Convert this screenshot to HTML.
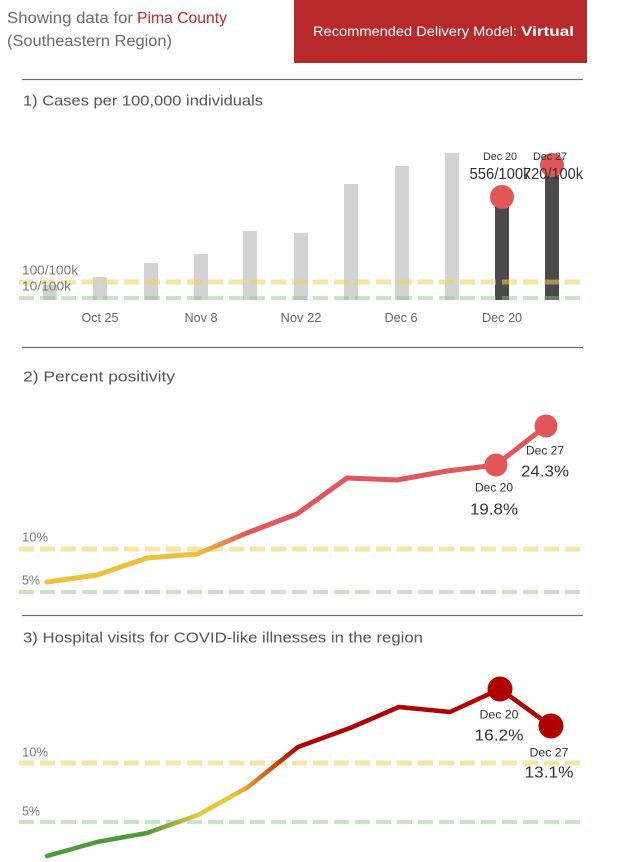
<!DOCTYPE html>
<html>
<head>
<meta charset="utf-8">
<style>
  html, body { margin: 0; padding: 0; background: #ffffff; }
  body { width: 618px; height: 862px; overflow: hidden; }
  svg { display: block; }
  text { font-family: "Liberation Sans", "DejaVu Sans", sans-serif; }
</style>
</head>
<body>
<svg width="618" height="862" viewBox="0 0 618 862" xmlns="http://www.w3.org/2000/svg">
  <defs>
    <linearGradient id="g2" gradientUnits="userSpaceOnUse" x1="197" y1="0" x2="247" y2="0">
      <stop offset="0" stop-color="#ecc23c"/>
      <stop offset="1" stop-color="#e15759"/>
    </linearGradient>
    <linearGradient id="g3" gradientUnits="userSpaceOnUse" x1="47" y1="0" x2="551" y2="0">
      <stop offset="0" stop-color="#4c9a3a"/>
      <stop offset="0.198" stop-color="#4c9a3a"/>
      <stop offset="0.30" stop-color="#e9c53c"/>
      <stop offset="0.37" stop-color="#e9c53c"/>
      <stop offset="0.50" stop-color="#b00000"/>
      <stop offset="1" stop-color="#b00000"/>
    </linearGradient>
  </defs>

  <!-- Header -->
  <text x="7" y="23" font-size="15.5" fill="#6b6b6b" textLength="126" lengthAdjust="spacingAndGlyphs">Showing data for</text>
  <text x="137" y="23" font-size="15.5" fill="#c8262b" textLength="90" lengthAdjust="spacingAndGlyphs">Pima County</text>
  <text x="7" y="46" font-size="15.5" fill="#6b6b6b" textLength="165" lengthAdjust="spacingAndGlyphs">(Southeastern Region)</text>

  <rect x="294" y="0" width="293" height="63" fill="#b7292b"/>
  <text x="313" y="36" font-size="14" fill="#ffffff" textLength="204" lengthAdjust="spacingAndGlyphs">Recommended Delivery Model:</text>
  <text x="521" y="36" font-size="14" font-weight="bold" fill="#ffffff" textLength="53" lengthAdjust="spacingAndGlyphs">Virtual</text>

  <line x1="22" y1="79.5" x2="583" y2="79.5" stroke="#707070" stroke-width="1.2"/>

  <!-- Chart 1 -->
  <text x="23" y="105.5" font-size="15" fill="#555555" textLength="240" lengthAdjust="spacingAndGlyphs">1) Cases per 100,000 individuals</text>

  <g fill="#d3d3d3">
    <rect x="43" y="285" width="14" height="15"/>
    <rect x="93" y="277" width="14" height="23"/>
    <rect x="144" y="263" width="14" height="37"/>
    <rect x="194" y="254" width="14" height="46"/>
    <rect x="243" y="231" width="14" height="69"/>
    <rect x="294" y="233" width="14" height="67"/>
    <rect x="344" y="184" width="14" height="116"/>
    <rect x="395" y="166" width="14" height="134"/>
    <rect x="445" y="153" width="14" height="147"/>
  </g>
  <g fill="#4a4a4a">
    <rect x="495" y="197" width="14" height="103"/>
    <rect x="545" y="165" width="14" height="135"/>
  </g>

  <line x1="19" y1="282" x2="584" y2="282" stroke="#f0cf5a" stroke-opacity="0.55" stroke-width="5" stroke-dasharray="15 6"/>
  <line x1="19" y1="298" x2="584" y2="298" stroke="#8cc07e" stroke-opacity="0.45" stroke-width="4" stroke-dasharray="15 6"/>

  <text x="22" y="274.5" font-size="13" fill="#7a7a7a" textLength="56" lengthAdjust="spacingAndGlyphs">100/100k</text>
  <text x="22" y="290.5" font-size="13" fill="#7a7a7a" textLength="49" lengthAdjust="spacingAndGlyphs">10/100k</text>

  <g font-size="13" fill="#666666" text-anchor="middle">
    <text x="100" y="322" textLength="37" lengthAdjust="spacingAndGlyphs">Oct 25</text>
    <text x="201" y="322" textLength="33" lengthAdjust="spacingAndGlyphs">Nov 8</text>
    <text x="301" y="322" textLength="41" lengthAdjust="spacingAndGlyphs">Nov 22</text>
    <text x="401" y="322" textLength="33" lengthAdjust="spacingAndGlyphs">Dec 6</text>
    <text x="502" y="322" textLength="40" lengthAdjust="spacingAndGlyphs">Dec 20</text>
  </g>

  <circle cx="502" cy="197" r="12" fill="#e15759"/>
  <circle cx="552" cy="165" r="12" fill="#e15759"/>
  <g fill="#333333" text-anchor="middle">
    <text x="500" y="160" font-size="11" textLength="34" lengthAdjust="spacingAndGlyphs">Dec 20</text>
    <text x="550" y="160" font-size="11" textLength="34" lengthAdjust="spacingAndGlyphs">Dec 27</text>
    <text x="500" y="179" font-size="16" textLength="61" lengthAdjust="spacingAndGlyphs">556/100k</text>
    <text x="553" y="179" font-size="16" textLength="60" lengthAdjust="spacingAndGlyphs">720/100k</text>
  </g>

  <line x1="22" y1="347.5" x2="583" y2="347.5" stroke="#707070" stroke-width="1.2"/>

  <!-- Chart 2 -->
  <text x="23" y="381.5" font-size="15" fill="#555555" textLength="152" lengthAdjust="spacingAndGlyphs">2) Percent positivity</text>

  <line x1="19" y1="549" x2="584" y2="549" stroke="#f0cf5a" stroke-opacity="0.55" stroke-width="5" stroke-dasharray="15 6"/>
  <line x1="19" y1="592" x2="584" y2="592" stroke="#8cc07e" stroke-opacity="0.45" stroke-width="4" stroke-dasharray="15 6"/>
  <text x="22" y="541.5" font-size="13" fill="#7a7a7a" textLength="26" lengthAdjust="spacingAndGlyphs">10%</text>
  <text x="22" y="584.5" font-size="13" fill="#7a7a7a" textLength="18" lengthAdjust="spacingAndGlyphs">5%</text>

  <polyline points="47,582 97,575 147,558 197,554 247,533 297,514 347,478 397,480 447,471 496,465 546,426"
            fill="none" stroke="url(#g2)" stroke-width="5" stroke-linejoin="round" stroke-linecap="round"/>
  <circle cx="496" cy="465" r="11.5" fill="#e15759"/>
  <circle cx="546" cy="426" r="11.5" fill="#e15759"/>
  <g fill="#333333" text-anchor="middle">
    <text x="494" y="491.5" font-size="12" textLength="38" lengthAdjust="spacingAndGlyphs">Dec 20</text>
    <text x="494" y="514.5" font-size="16" textLength="48" lengthAdjust="spacingAndGlyphs">19.8%</text>
    <text x="545" y="454.5" font-size="12" textLength="38" lengthAdjust="spacingAndGlyphs">Dec 27</text>
    <text x="545" y="476.5" font-size="16" textLength="48" lengthAdjust="spacingAndGlyphs">24.3%</text>
  </g>

  <line x1="22" y1="615.5" x2="583" y2="615.5" stroke="#707070" stroke-width="1.2"/>

  <!-- Chart 3 -->
  <text x="23" y="642.5" font-size="15" fill="#555555" textLength="400" lengthAdjust="spacingAndGlyphs">3) Hospital visits for COVID-like illnesses in the region</text>

  <line x1="19" y1="763" x2="584" y2="763" stroke="#f0cf5a" stroke-opacity="0.55" stroke-width="5" stroke-dasharray="15 6"/>
  <line x1="19" y1="822" x2="584" y2="822" stroke="#8cc07e" stroke-opacity="0.45" stroke-width="4" stroke-dasharray="15 6"/>
  <text x="22" y="756.5" font-size="13" fill="#7a7a7a" textLength="26" lengthAdjust="spacingAndGlyphs">10%</text>
  <text x="22" y="815.5" font-size="13" fill="#7a7a7a" textLength="18" lengthAdjust="spacingAndGlyphs">5%</text>

  <polyline points="47,856 97,842 147,833 198,815 248,787 298,747 350,728 399,707 450,712 500,689 551,726"
            fill="none" stroke="url(#g3)" stroke-width="4.5" stroke-linejoin="round" stroke-linecap="round"/>
  <circle cx="500" cy="689" r="12.5" fill="#b00000"/>
  <circle cx="551" cy="726" r="12.5" fill="#b00000"/>
  <g fill="#333333" text-anchor="middle">
    <text x="499" y="718.5" font-size="12" textLength="39" lengthAdjust="spacingAndGlyphs">Dec 20</text>
    <text x="499" y="740.5" font-size="16" textLength="49" lengthAdjust="spacingAndGlyphs">16.2%</text>
    <text x="549" y="756.5" font-size="12" textLength="39" lengthAdjust="spacingAndGlyphs">Dec 27</text>
    <text x="549" y="777.5" font-size="16" textLength="49" lengthAdjust="spacingAndGlyphs">13.1%</text>
  </g>
</svg>
</body>
</html>
